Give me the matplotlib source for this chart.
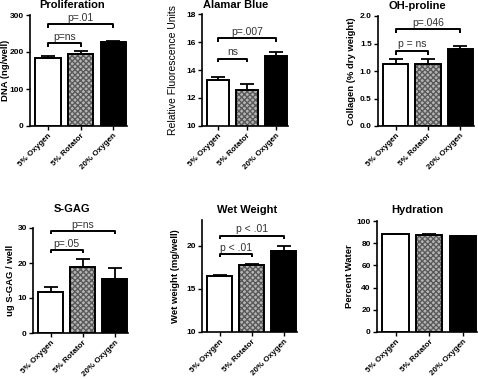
import matplotlib
matplotlib.use('Agg')
import matplotlib.pyplot as plt

plt.rcParams['font.family'] = ['Liberation Sans', 'DejaVu Sans']

groups = ['5% Oxygen', '5% Rotator', '20% Oxygen']

prolif = [185, 194, 226]
prolif_err = [5, 8, 3]
alamar = [13.3, 12.6, 15.0]
alamar_err = [0.2, 0.4, 0.3]
ohpro = [1.13, 1.13, 1.40]
ohpro_err = [0.09, 0.08, 0.05]
sgag = [11.8, 18.8, 15.5]
sgag_err = [1.4, 2.3, 3.0]
wetw = [16.55, 17.8, 19.45]
wetw_err = [0.05, 0.15, 0.55]
hydr = [88.0, 87.6, 86.5]
hydr_err = [0.3, 0.6, 0.3]

W, H = 478, 379
fig = plt.figure(figsize=(W / 100, H / 100), dpi=100)


def make_ax(l, r, t, b):
    return fig.add_axes([l / W, 1 - b / H, (r - l) / W, (b - t) / H])


def bracket(ax, i, j, y, txt, dy):
    ax.plot([i, i, j, j], [y - dy, y, y, y - dy], color='black', lw=1.4,
            clip_on=False, solid_capstyle='butt')
    ax.text((i + j) / 2, y + dy * 0.3, txt, ha='center', va='bottom',
            fontsize=7.5, color='#333333')


def panel(ax, box, vals, errs, title, title_xy, ylabel, ylab_x, ylim, yticks,
          ylab_bold=True):
    l, r, t, b = box
    x = [0, 1, 2]
    ax.bar(x, vals, width=0.78, color=['white', 'none', 'black'],
           edgecolor='black', linewidth=1.4, zorder=2)
    # checkered texture for rotator
    ax.bar([1], [vals[1]], width=0.78, color='#b5b5b5', edgecolor='#5a5a5a',
           hatch='xxxxxx', linewidth=0, zorder=1)
    ax.errorbar(x, vals, yerr=[[0, 0, 0], errs], fmt='none', ecolor='black',
                elinewidth=1.3, capsize=5, capthick=1.3, zorder=3)
    ax.set_xlim(-0.55, 2.42)
    ax.set_ylim(*ylim)
    ax.set_yticks(yticks)
    ax.set_xticks(x)
    ax.set_xticklabels(groups, rotation=45, ha='right', rotation_mode='anchor',
                       fontsize=5.8, fontweight='bold')
    for lab in ax.get_yticklabels():
        lab.set_fontsize(6)
        lab.set_fontweight('bold')
    ax.spines['top'].set_visible(False)
    ax.spines['right'].set_visible(False)
    for s in ('left', 'bottom'):
        ax.spines[s].set_linewidth(1.2)
    ax.tick_params(axis='both', length=3, width=1, pad=1.5)
    fig.text(title_xy[0] / W, 1 - title_xy[1] / H, title, fontsize=8,
             fontweight='bold', ha='center', va='center')
    ax.set_ylabel(ylabel, fontsize=6.8 if ylab_bold else 7.5,
                  fontweight='bold' if ylab_bold else 'normal', va='center')
    ax.yaxis.set_label_coords((ylab_x - l) / (r - l), 0.5)


box1 = (30, 127, 15, 126)
ax1 = make_ax(*box1)
panel(ax1, box1, prolif, prolif_err, 'Proliferation', (72, 5),
      'DNA (ng/well)', 6, (0, 300), [0, 100, 200, 300])
bracket(ax1, 0, 1, 224, 'p=ns', 10)
bracket(ax1, 0, 2, 275, 'p=.01', 10)

box2 = (202, 288, 14, 126)
ax2 = make_ax(*box2)
panel(ax2, box2, alamar, alamar_err, 'Alamar Blue', (236, 5),
      'Relative Fluorescence Units', 173, (10, 18), [10, 12, 14, 16, 18],
      ylab_bold=False)
bracket(ax2, 0, 1, 14.82, 'ns', 0.27)
bracket(ax2, 0, 2, 16.3, 'p=.007', 0.27)

box3 = (378, 474, 16, 126)
ax3 = make_ax(*box3)
panel(ax3, box3, ohpro, ohpro_err, 'OH-proline', (417, 6),
      'Collagen (% dry weight)', 352, (0, 2.0), [0.0, 0.5, 1.0, 1.5, 2.0])
ax3.set_yticklabels(['0.0', '0.5', '1.0', '1.5', '2.0'],
                    fontsize=6, fontweight='bold')
bracket(ax3, 0, 1, 1.37, 'p = ns', 0.07)
bracket(ax3, 0, 2, 1.76, 'p=.046', 0.07)

box4 = (33, 128, 228, 333)
ax4 = make_ax(*box4)
panel(ax4, box4, sgag, sgag_err, 'S-GAG', (72, 209),
      'ug S-GAG / well', 10, (0, 30), [0, 10, 20, 30])
bracket(ax4, 0, 1, 23.8, 'p=.05', 1.0)
bracket(ax4, 0, 2, 29.2, 'p=ns', 1.0)

box5 = (202, 297, 220, 332)
ax5 = make_ax(*box5)
panel(ax5, box5, wetw, wetw_err, 'Wet Weight', (247, 210),
      'Wet weight (mg/well)', 175, (10, 23), [10, 15, 20])
bracket(ax5, 0, 1, 19.1, 'p < .01', 0.4)
bracket(ax5, 0, 2, 21.2, 'p < .01', 0.4)

box6 = (377, 477, 221, 332)
ax6 = make_ax(*box6)
panel(ax6, box6, hydr, hydr_err, 'Hydration', (417, 210),
      'Percent Water', 350, (0, 100), [0, 20, 40, 60, 80, 100])

fig.savefig('out.png', dpi=100)
